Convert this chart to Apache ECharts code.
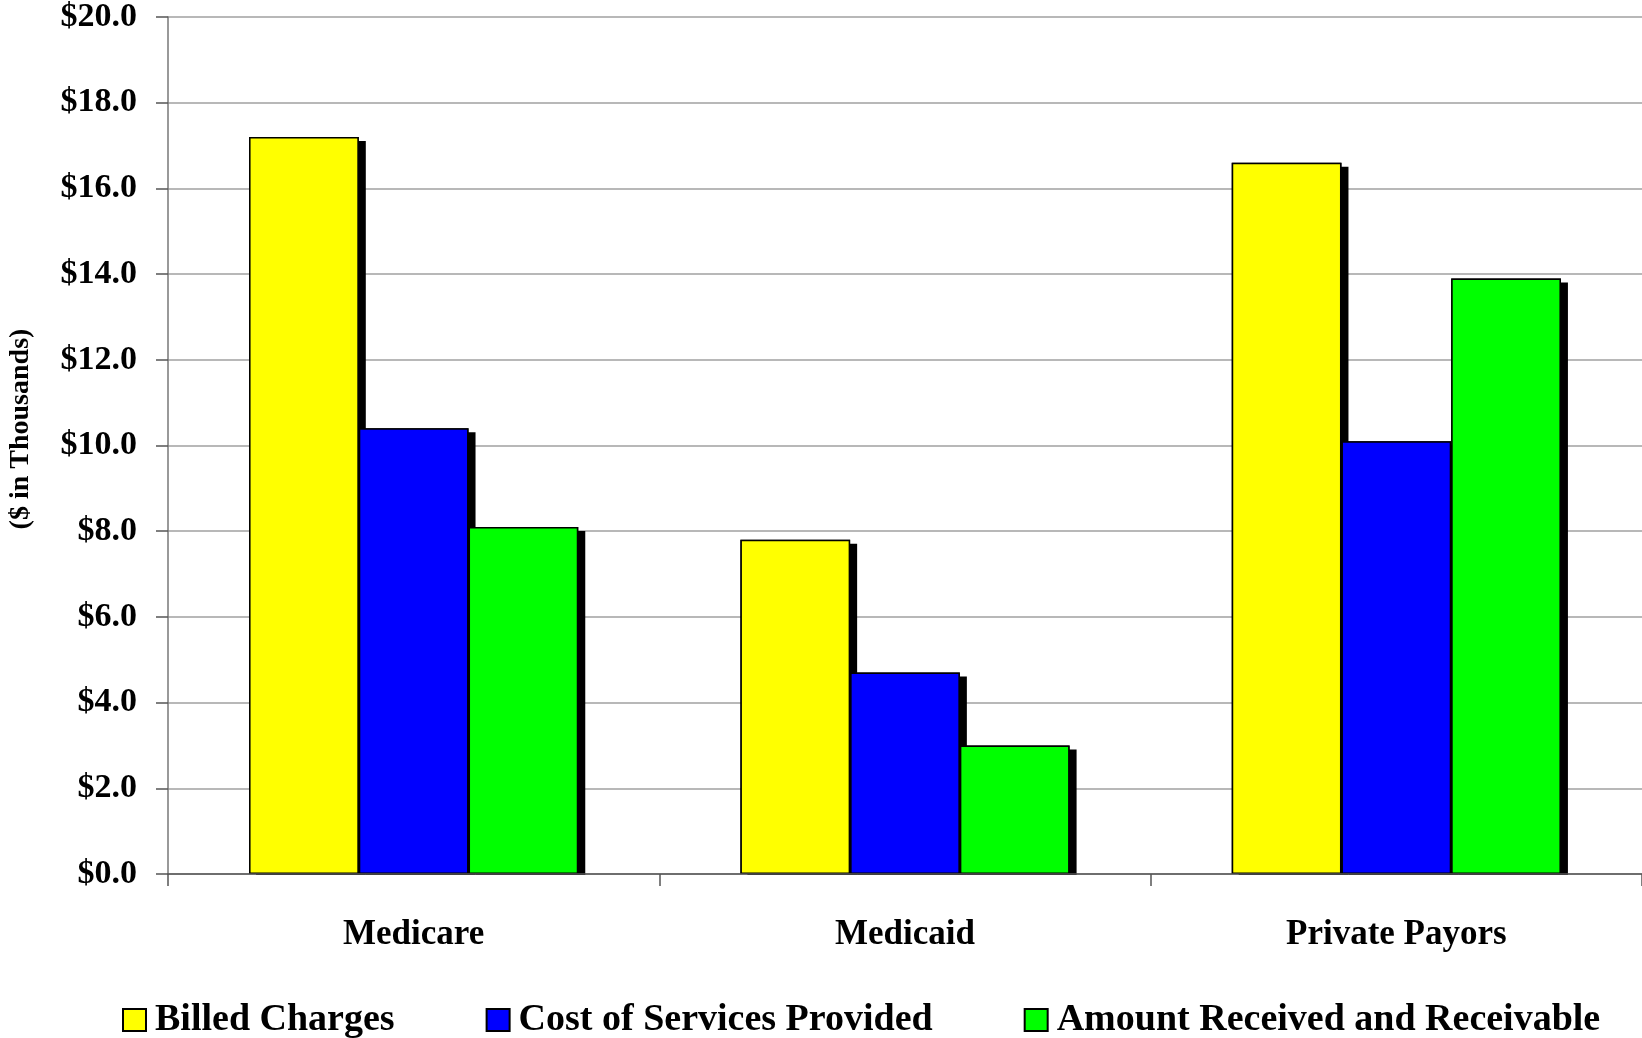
<!DOCTYPE html>
<html style="height: 100%">
<head>
<meta charset="utf-8">
<script src="https://cdn.jsdelivr.net/npm/echarts@6/dist/echarts.min.js"></script>
</head>
<body style="height: 100%; margin: 0; background: #fff">
<div id="container" style="width: 1642px; height: 1038px"></div>
<script type="text/javascript">
var payors = ['Medicare', 'Medicaid', 'Private Payors'];
var billedCharges = [17.2, 7.8, 16.6];
var costOfServices = [10.4, 4.7, 10.1];
var amountReceived = [8.1, 3.0, 13.9];
var seriesNames = ['Billed Charges', 'Cost of Services Provided', 'Amount Received and Receivable'];
var seriesColors = ['#ffff00', '#0000ff', '#00ff00'];

var font = '"Liberation Serif", "Times New Roman", serif';
var dom = document.getElementById('container');
var myChart = echarts.init(dom);

// bars on axis 1 carry the drop shadow only, bars on axis 0 draw the outlined faces on top
function shadowSeries(name, data) {
    return {
        name: name + ' shadow',
        type: 'bar',
        xAxisIndex: 1,
        data: data,
        barGap: '0%',
        barCategoryGap: '33%',
        silent: true,
        z: 1,
        itemStyle: {
            color: '#000',
            shadowColor: '#000',
            shadowBlur: 0,
            shadowOffsetX: 7,
            shadowOffsetY: 4
        }
    };
}
function barSeries(name, data, color) {
    return {
        name: name,
        type: 'bar',
        data: data,
        barGap: '0%',
        barCategoryGap: '33%',
        z: 3,
        itemStyle: {
            color: color,
            borderColor: '#000',
            borderWidth: 1.5
        },
        emphasis: { disabled: true }
    };
}

var option = {
    animation: false,
    backgroundColor: '#fff',
    grid: { left: 168, right: 0, top: 14, bottom: 164 },
    legend: {
        data: seriesNames,
        left: 117,
        top: 996,
        itemWidth: 23,
        itemHeight: 22,
        itemGap: 91,
        icon: 'rect',
        textStyle: { fontFamily: font, fontWeight: 'bold', fontSize: 38, color: '#000', padding: [0, 0, 0, 4] }
    },
    xAxis: [{
        type: 'category',
        data: payors,
        z: 5,
        axisLine: { lineStyle: { color: '#555', width: 1.5 } },
        axisTick: { show: true, length: 12, lineStyle: { color: '#555', width: 1.5 } },
        axisLabel: { margin: 43, fontFamily: font, fontWeight: 'bold', fontSize: 35, color: '#000' }
    }, {
        type: 'category',
        data: payors,
        show: false
    }],
    yAxis: {
        type: 'value',
        min: 0,
        max: 20,
        interval: 2,
        axisLine: { show: true, lineStyle: { color: '#777', width: 1.5 } },
        axisTick: { show: true, length: 12, lineStyle: { color: '#555', width: 1.5 } },
        splitLine: { lineStyle: { color: '#a0a0a0', width: 1.5 } },
        axisLabel: {
            margin: 31,
            fontFamily: font, fontWeight: 'bold', fontSize: 34, color: '#000',
            formatter: function (v) { return '$' + v.toFixed(1); }
        }
    },
    graphic: [{
        type: 'text',
        x: 21,
        y: 429,
        rotation: Math.PI / 2,
        style: {
            text: '($ in Thousands)',
            fontFamily: font,
            fontWeight: 'bold',
            fontSize: 28,
            fill: '#000',
            align: 'center',
            verticalAlign: 'middle'
        }
    }, {
        // hides the part of the drop shadow that falls below the baseline
        type: 'rect',
        z: 4,
        shape: { x: 169, y: 875, width: 1473, height: 8 },
        style: { fill: '#fff' },
        silent: true
    }],
    series: [
        shadowSeries(seriesNames[0], billedCharges),
        shadowSeries(seriesNames[1], costOfServices),
        shadowSeries(seriesNames[2], amountReceived),
        barSeries(seriesNames[0], billedCharges, seriesColors[0]),
        barSeries(seriesNames[1], costOfServices, seriesColors[1]),
        barSeries(seriesNames[2], amountReceived, seriesColors[2])
    ]
};
myChart.setOption(option);
</script>
</body>
</html>
